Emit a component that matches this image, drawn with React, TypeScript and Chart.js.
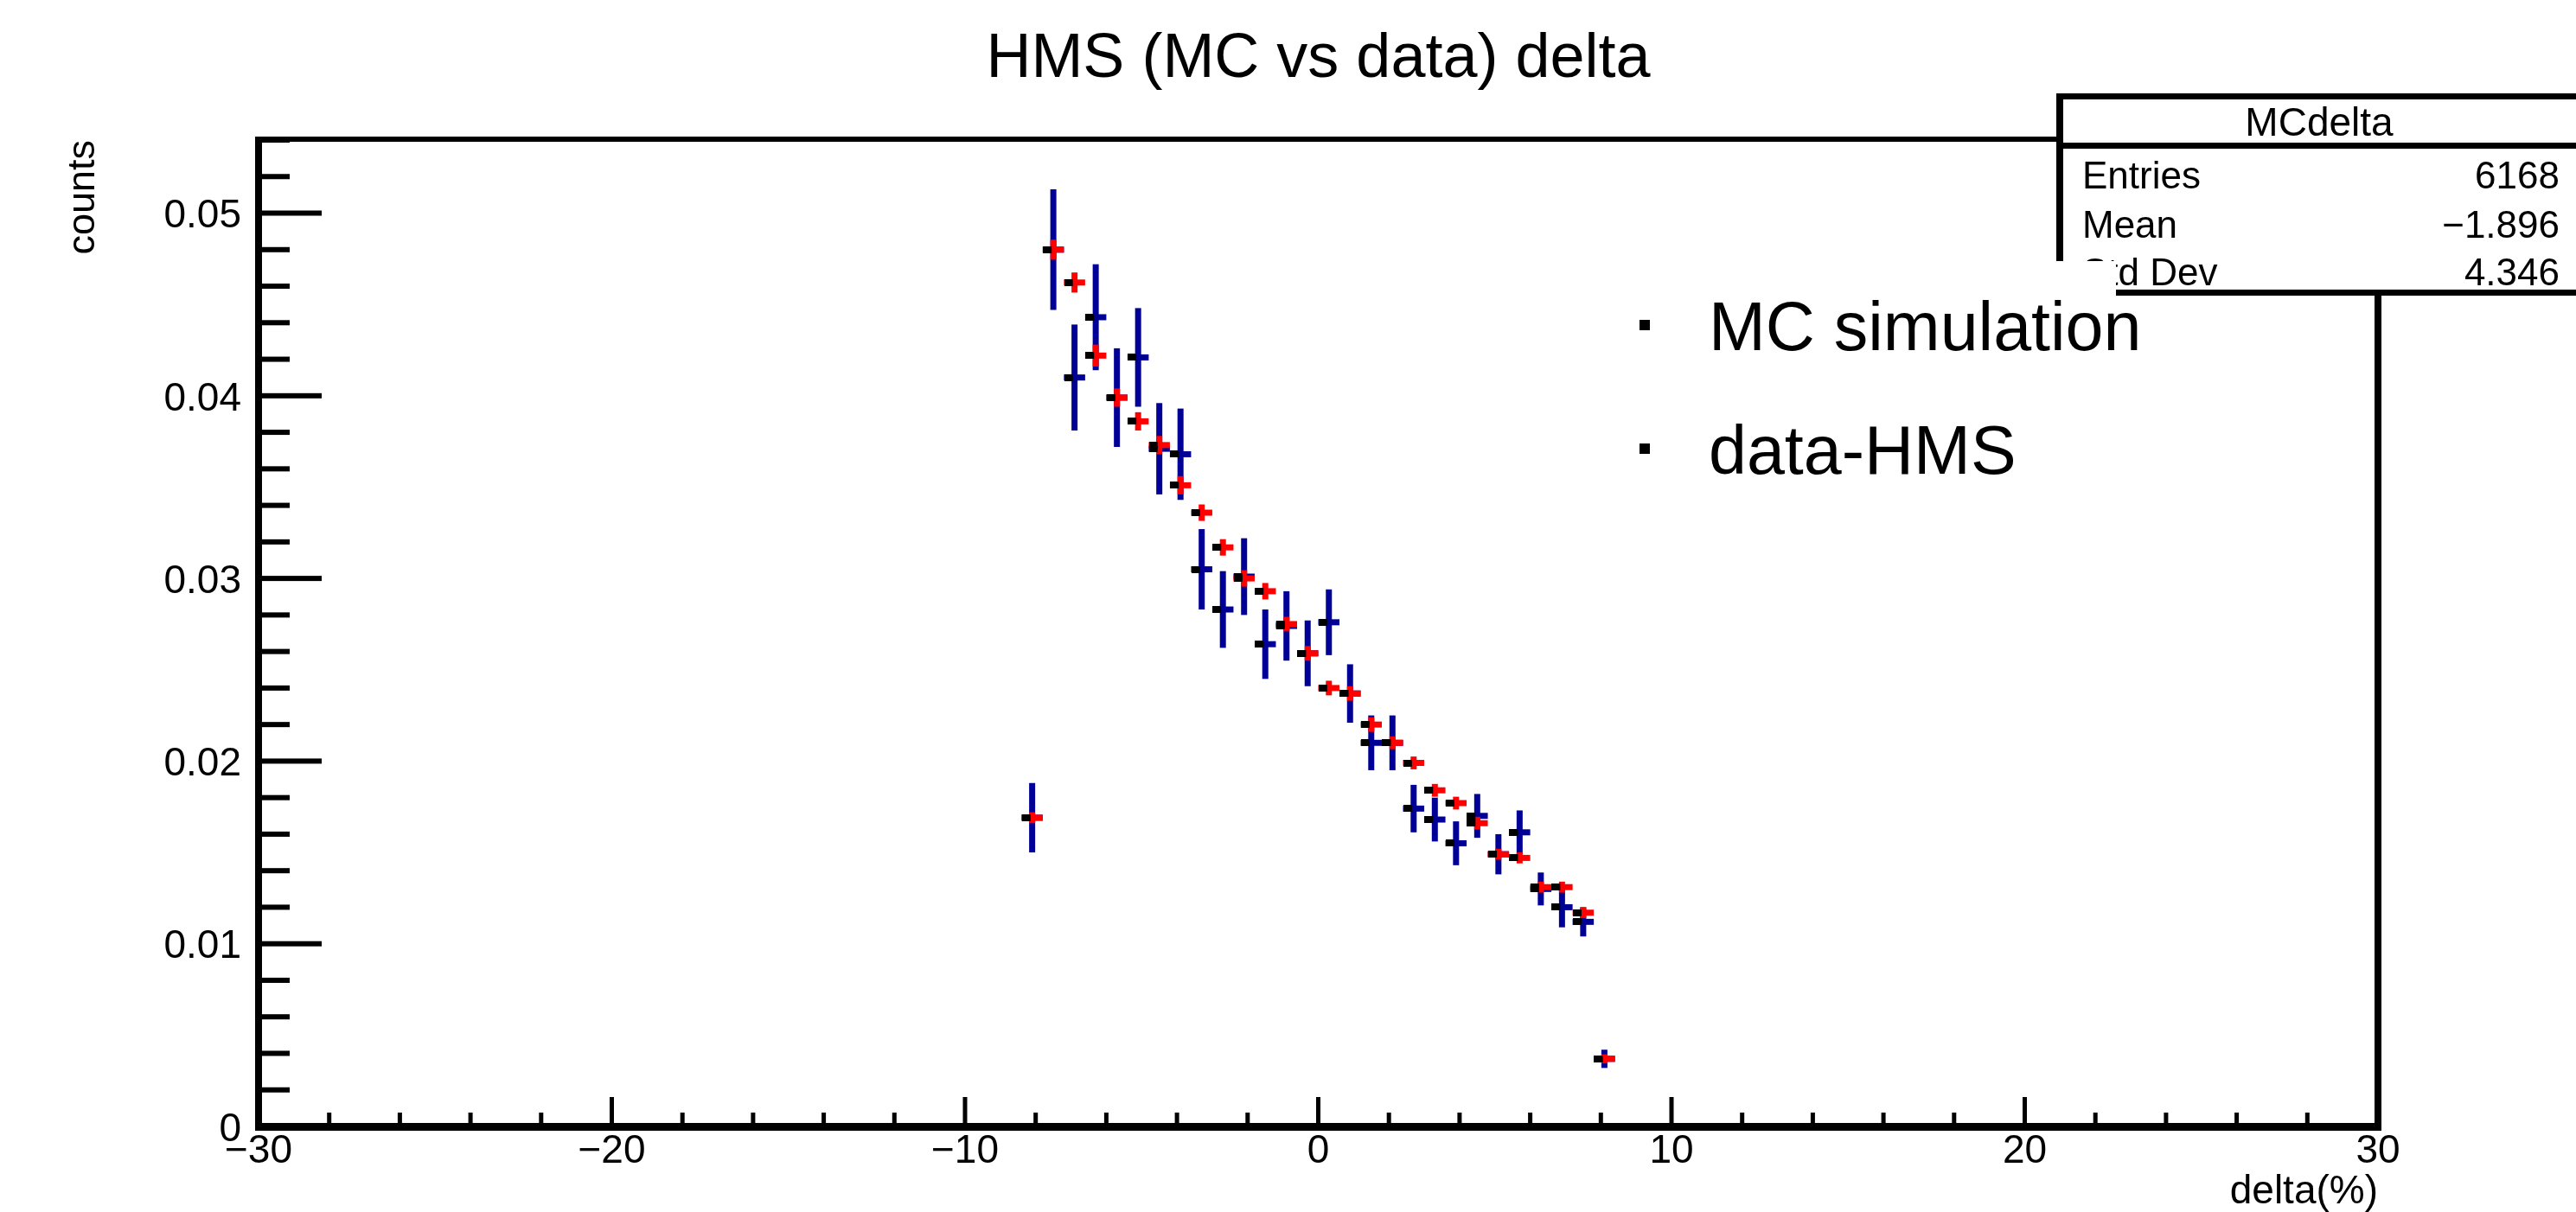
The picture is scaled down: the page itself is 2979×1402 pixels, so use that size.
import React, { useEffect, useRef } from 'react';
import { Chart, registerables } from 'chart.js';

Chart.register(...registerables);

const FONT = '"Liberation Sans", Arial, Helvetica, sans-serif';

// ---- text ----
const chartTitle = 'HMS (MC vs data) delta';
const xAxisTitle = 'delta(%)';
const yAxisTitle = 'counts';
const legendLabels = ['MC simulation', 'data-HMS'];
const statsTitle = 'MCdelta';
const statsNames = ['Entries', 'Mean', 'Std Dev'];
const statsValues = ['6168', '\u22121.896', '4.346'];

// ---- axes ----
const xMin = -30;
const xMax = 30;
const yMin = 0;
const yMax = 0.054;
const xTickValues = [-30, -20, -10, 0, 10, 20, 30];
const xTickLabels = ['\u221230', '\u221220', '\u221210', '0', '10', '20', '30'];
const yTickValues = [0, 0.01, 0.02, 0.03, 0.04, 0.05];
const yTickLabels = ['0', '0.01', '0.02', '0.03', '0.04', '0.05'];
const xMinorStep = 2;
const yMinorStep = 0.002;
const binWidth = 0.6;

// ---- data ----
const binCenters = [
  -8.1, -7.5, -6.9, -6.3, -5.7, -5.1, -4.5, -3.9, -3.3, -2.7, -2.1, -1.5, -0.9, -0.3,
  0.3, 0.9, 1.5, 2.1, 2.7, 3.3, 3.9, 4.5, 5.1, 5.7, 6.3, 6.9, 7.5, 8.1,
];
const dataValues = [
  0.0169, 0.0480, 0.0410, 0.0443, 0.0399, 0.0421, 0.0371, 0.0368, 0.0305, 0.0283, 0.0301, 0.0264, 0.0274, 0.0259,
  0.0276, 0.0237, 0.0210, 0.0210, 0.0174, 0.0168, 0.0155, 0.0170, 0.0149, 0.0161, 0.0130, 0.0120, 0.0112, 0.0037,
];
const dataErrors = [
  0.0019, 0.0033, 0.0029, 0.0029, 0.0027, 0.0027, 0.0025, 0.0025, 0.0022, 0.0021, 0.0021, 0.0019, 0.0019, 0.0018,
  0.0018, 0.0016, 0.0015, 0.0015, 0.0013, 0.0012, 0.0012, 0.0012, 0.0011, 0.0012, 0.0009, 0.0011, 0.0008, 0.0005,
];
const mcValues = [
  0.0169, 0.0480, 0.0462, 0.0422, 0.0399, 0.0386, 0.0373, 0.0351, 0.0336, 0.0317, 0.0300, 0.0293, 0.0275, 0.0259,
  0.0240, 0.0237, 0.0220, 0.0210, 0.0199, 0.0184, 0.0177, 0.0166, 0.0149, 0.0147, 0.0131, 0.0131, 0.0117, 0.0037,
];
const mcErrors = [
  0.0003, 0.00055, 0.00055, 0.0006, 0.0005, 0.0005, 0.0005, 0.0005, 0.00045, 0.00045, 0.00045, 0.00045, 0.0004, 0.0004,
  0.0004, 0.0004, 0.0004, 0.00035, 0.00035, 0.00035, 0.00035, 0.00035, 0.0003, 0.0003, 0.0003, 0.0003, 0.0003, 0.00025,
];

const NAVY = 'rgb(0,0,150)';
const RED = 'rgb(255,0,0)';

export default function App() {
  const ref = useRef<HTMLCanvasElement>(null);

  useEffect(() => {
    document.body.style.margin = '0';
    document.body.style.overflow = 'hidden';
    const canvas = ref.current as HTMLCanvasElement;

    const marker = document.createElement('canvas');
    marker.width = 24;
    marker.height = 8;
    const mctx = marker.getContext('2d') as CanvasRenderingContext2D;
    mctx.fillStyle = '#000';
    mctx.fillRect(0, 0, 10, 8);

    const halfBinPx = (c: any) => {
      const s = c.chart.scales.x;
      return Math.abs(s.getPixelForValue(binWidth / 2) - s.getPixelForValue(0));
    };

    const decor = {
      id: 'rootDecor',
      beforeDatasetsDraw(chart: any) {
        const { ctx, chartArea: ca, scales } = chart;
        const x = scales.x;
        const y = scales.y;
        ctx.save();
        ctx.fillStyle = '#000';
        const nY = Math.round((yMax - yMin) / yMinorStep);
        for (let k = 0; k <= nY; k++) {
          const p = y.getPixelForValue(yMin + k * yMinorStep);
          const len = k % 5 === 0 ? 73 : 36;
          ctx.fillRect(ca.left, p - 3, len, 6);
        }
        const nX = Math.round((xMax - xMin) / xMinorStep);
        for (let k = 0; k <= nX; k++) {
          const p = x.getPixelForValue(xMin + k * xMinorStep);
          const len = k % 5 === 0 ? 34 : 16;
          ctx.fillRect(p - 2.5, ca.bottom - len, 5, len);
        }
        ctx.restore();
      },
      afterDatasetsDraw(chart: any) {
        const { ctx, chartArea: ca } = chart;
        ctx.save();
        // frame
        ctx.fillStyle = '#000';
        ctx.fillRect(ca.left - 4, ca.top - 4, 8, ca.bottom - ca.top + 9);
        ctx.fillRect(ca.left - 4, ca.bottom - 4, ca.right - ca.left + 8, 9);
        ctx.fillRect(ca.left - 4, ca.top - 4, ca.right - ca.left + 8, 6);
        ctx.fillRect(ca.right - 4, ca.top - 4, 8, ca.bottom - ca.top + 9);

        // stats box
        const bx = 2382;
        ctx.fillStyle = '#fff';
        ctx.fillRect(bx, 111, 700, 228);
        ctx.fillStyle = '#000';
        ctx.fillRect(bx - 4, 108, 700, 7);
        ctx.fillRect(bx - 4, 108, 8, 235);
        ctx.fillRect(bx - 4, 165, 700, 7);
        ctx.fillRect(bx - 4, 335, 700, 7);
        ctx.textBaseline = 'alphabetic';
        ctx.font = `46px ${FONT}`;
        ctx.textAlign = 'center';
        ctx.fillText(statsTitle, 2682, 157);
        ctx.font = `44px ${FONT}`;
        const rowBase = [218, 275, 330];
        statsNames.forEach((n, i) => {
          ctx.textAlign = 'left';
          ctx.fillText(n, 2408, rowBase[i]);
          ctx.textAlign = 'right';
          ctx.fillText(statsValues[i], 2960, rowBase[i]);
        });

        // legend box
        ctx.fillStyle = '#fff';
        ctx.fillRect(1850, 302, 2447 - 1850, 300);
        ctx.fillStyle = '#000';
        ctx.font = `79px ${FONT}`;
        ctx.textAlign = 'left';
        const legBase = [405, 548];
        const legMark = [370, 513];
        legendLabels.forEach((t, i) => {
          ctx.fillRect(1896, legMark[i], 12, 12);
          ctx.fillText(t, 1976, legBase[i]);
        });
        ctx.restore();
      },
    };

    const chart = new Chart(canvas, {
      type: 'bar',
      data: {
        datasets: [
          {
            type: 'bar',
            label: 'data-HMS error',
            data: binCenters.map((x, i) => ({ x, y: [dataValues[i] - dataErrors[i], dataValues[i] + dataErrors[i]] })),
            backgroundColor: NAVY,
            borderWidth: 0,
            barThickness: 7,
            grouped: false,
            inflateAmount: 0,
            order: 6,
          } as any,
          {
            type: 'scatter',
            label: 'data-HMS bin',
            data: binCenters.map((x, i) => ({ x, y: dataValues[i] })),
            pointStyle: 'line',
            pointRadius: halfBinPx,
            pointBorderWidth: 7,
            pointBorderColor: NAVY,
            pointBackgroundColor: NAVY,
            order: 5,
          } as any,
          {
            type: 'bar',
            label: 'MC error',
            data: binCenters.map((x, i) => ({ x, y: [mcValues[i] - mcErrors[i], mcValues[i] + mcErrors[i]] })),
            backgroundColor: RED,
            borderWidth: 0,
            barThickness: 7,
            grouped: false,
            inflateAmount: 0,
            order: 4,
          } as any,
          {
            type: 'scatter',
            label: 'MC bin',
            data: binCenters.map((x, i) => ({ x, y: mcValues[i] })),
            pointStyle: 'line',
            pointRadius: halfBinPx,
            pointBorderWidth: 7,
            pointBorderColor: RED,
            pointBackgroundColor: RED,
            order: 3,
          } as any,
          {
            type: 'scatter',
            label: 'data-HMS',
            data: binCenters.map((x, i) => ({ x, y: dataValues[i] })),
            pointStyle: marker,
            pointRadius: 5,
            order: 2,
          } as any,
          {
            type: 'scatter',
            label: 'MC simulation',
            data: binCenters.map((x, i) => ({ x, y: mcValues[i] })),
            pointStyle: marker,
            pointRadius: 5,
            order: 1,
          } as any,
        ],
      },
      options: {
        responsive: false,
        maintainAspectRatio: false,
        devicePixelRatio: 1,
        animation: false,
        events: [],
        layout: { padding: { left: 0, top: 0, right: 229, bottom: 0 } },
        plugins: {
          legend: { display: false },
          tooltip: { enabled: false },
          title: {
            display: true,
            text: chartTitle,
            color: '#000',
            fullSize: false,
            font: { family: FONT, size: 72, weight: 'normal', lineHeight: 1.2 },
            padding: { top: 25.8, bottom: 49.8 },
          },
        },
        scales: {
          x: {
            type: 'linear',
            position: 'bottom',
            min: xMin,
            max: xMax,
            offset: false,
            grid: { display: false, drawTicks: false },
            border: { display: false },
            afterBuildTicks: (s: any) => {
              s.ticks = xTickValues.map((v) => ({ value: v }));
            },
            afterFit: (s: any) => {
              s.height = 99;
            },
            ticks: {
              autoSkip: false,
              maxRotation: 0,
              minRotation: 0,
              padding: 6,
              color: '#000',
              font: { family: FONT, size: 46, lineHeight: 1 },
              callback: (_v: any, i: number) => xTickLabels[i],
            },
            title: {
              display: true,
              text: xAxisTitle,
              align: 'end',
              color: '#000',
              font: { family: FONT, size: 46, lineHeight: 1 },
              padding: { top: 0, bottom: 0 },
            },
          },
          y: {
            type: 'linear',
            position: 'left',
            min: yMin,
            max: yMax,
            grid: { display: false, drawTicks: false },
            border: { display: false },
            afterBuildTicks: (s: any) => {
              s.ticks = yTickValues.map((v) => ({ value: v }));
            },
            afterFit: (s: any) => {
              s.width = 299;
            },
            ticks: {
              autoSkip: false,
              padding: 20,
              labelOffset: 4,
              color: '#000',
              font: { family: FONT, size: 46, lineHeight: 1 },
              callback: (_v: any, i: number) => yTickLabels[i],
            },
            title: {
              display: true,
              text: yAxisTitle,
              align: 'end',
              color: '#000',
              font: { family: FONT, size: 45, lineHeight: 1 },
              padding: { top: 74, bottom: 0 },
            },
          },
        },
      } as any,
      plugins: [decor],
    });

    return () => chart.destroy();
  }, []);

  return (
    <div style={{ width: 2979, height: 1402 }}>
      <canvas ref={ref} width={2979} height={1402} style={{ display: 'block', width: 2979, height: 1402 }} />
    </div>
  );
}
